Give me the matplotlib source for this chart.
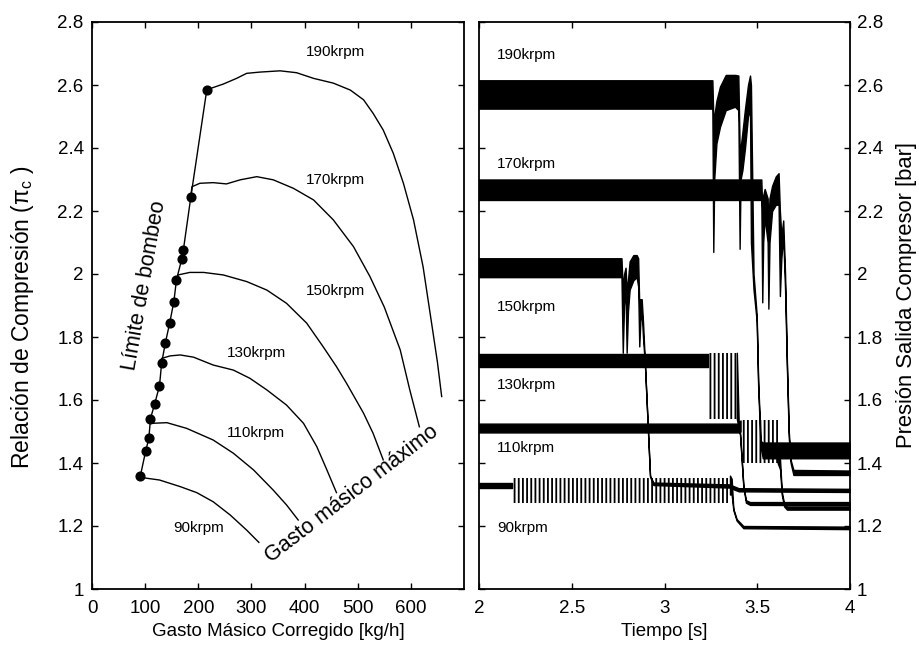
import matplotlib
matplotlib.use("Agg")
import matplotlib.pyplot as plt

plt.rcParams['font.family'] = ['Liberation Sans', 'DejaVu Sans']
plt.rcParams['mathtext.fontset'] = 'custom'
plt.rcParams['mathtext.rm'] = 'Liberation Sans'
plt.rcParams['mathtext.it'] = 'Liberation Sans:italic'
plt.rcParams['hatch.linewidth'] = 1.3

# ---------------- Left panel data: compressor map ----------------
surge_x = [91, 101, 107, 110, 118, 127, 131, 138, 146, 154, 159, 169, 172, 186, 216]
surge_y = [1.359, 1.438, 1.478, 1.541, 1.588, 1.645, 1.717, 1.781, 1.843, 1.912,
           1.982, 2.048, 2.077, 2.245, 2.585]

n90_x = [91, 97, 127, 166, 197, 228, 260, 291, 314]
n90_y = [1.359, 1.353, 1.346, 1.325, 1.306, 1.277, 1.235, 1.187, 1.148]

n110_x = [110, 113, 141, 178, 228, 266, 304, 341, 366, 388]
n110_y = [1.541, 1.526, 1.528, 1.510, 1.473, 1.431, 1.378, 1.314, 1.267, 1.219]

n130_x = [131, 147, 166, 191, 228, 266, 297, 329, 366, 398, 423, 442, 460]
n130_y = [1.732, 1.740, 1.743, 1.736, 1.711, 1.695, 1.669, 1.632, 1.584, 1.526,
          1.452, 1.378, 1.306]

n150_x = [159, 162, 184, 210, 247, 291, 329, 366, 404, 435, 460, 479, 511, 529, 548]
n150_y = [1.982, 1.997, 2.005, 2.005, 1.997, 1.976, 1.949, 1.907, 1.844, 1.769,
          1.706, 1.653, 1.558, 1.494, 1.410]

n170_x = [186, 188, 203, 228, 253, 279, 310, 341, 379, 417, 454, 492, 523, 550,
          580, 598, 616]
n170_y = [2.245, 2.277, 2.288, 2.290, 2.286, 2.299, 2.309, 2.299, 2.272, 2.235,
          2.172, 2.087, 1.992, 1.895, 1.759, 1.632, 1.515]

n190_x = [216, 247, 272, 291, 316, 354, 385, 417, 454, 486, 511, 529, 548, 567,
          586, 605, 623, 640, 650, 658]
n190_y = [2.585, 2.603, 2.621, 2.637, 2.641, 2.645, 2.639, 2.621, 2.606, 2.584,
          2.553, 2.510, 2.457, 2.383, 2.288, 2.172, 2.023, 1.833, 1.720, 1.611]

map_labels = ['190krpm', '170krpm', '150krpm', '130krpm', '110krpm', '90krpm']
map_label_x = [459, 459, 459, 309, 309, 201]
map_label_y = [2.705, 2.299, 1.947, 1.749, 1.495, 1.195]

# ---------------- Right panel data: outlet pressure vs time ----------------
t190 = [2.0, 3.258, 3.263, 3.268, 3.280, 3.299, 3.330, 3.380, 3.398, 3.405, 3.410,
        3.420, 3.434, 3.450, 3.461, 3.466, 3.480, 3.497, 3.505, 3.518, 3.530, 4.0]
lo190 = [2.525, 2.525, 2.07, 2.30, 2.415, 2.467, 2.52, 2.531, 2.52, 2.08, 2.30,
         2.33, 2.40, 2.50, 2.52, 2.10, 1.95, 1.85, 1.64, 1.45, 1.415, 1.415]
hi190 = [2.615, 2.615, 2.50, 2.50, 2.55, 2.595, 2.632, 2.632, 2.63, 2.40, 2.40,
         2.45, 2.525, 2.60, 2.63, 2.60, 2.00, 1.87, 1.66, 1.47, 1.465, 1.465]

t170 = [2.0, 3.522, 3.527, 3.532, 3.540, 3.556, 3.560, 3.566, 3.580, 3.600, 3.615,
        3.622, 3.630, 3.640, 3.650, 3.660, 3.670, 3.680, 3.695, 4.0]
lo170 = [2.235, 2.235, 1.91, 2.10, 2.18, 2.10, 1.89, 2.10, 2.20, 2.22, 2.22, 1.93,
         2.05, 2.12, 1.95, 1.70, 1.48, 1.40, 1.362, 1.362]
hi170 = [2.30, 2.30, 2.20, 2.25, 2.27, 2.24, 2.15, 2.24, 2.28, 2.31, 2.32, 2.20,
         2.12, 2.17, 2.00, 1.72, 1.50, 1.41, 1.378, 1.376]

t150 = [2.0, 2.768, 2.775, 2.782, 2.790, 2.796, 2.803, 2.812, 2.832, 2.850, 2.858,
        2.864, 2.870, 2.877, 2.884, 2.895, 2.922, 2.940, 3.350, 3.400, 4.0]
lo150 = [1.99, 1.99, 1.75, 1.90, 1.95, 1.75, 1.88, 1.95, 1.98, 1.99, 1.96, 1.77,
         1.85, 1.88, 1.80, 1.706, 1.357, 1.330, 1.322, 1.31, 1.308]
hi150 = [2.05, 2.05, 1.95, 2.00, 2.02, 1.95, 1.98, 2.04, 2.06, 2.06, 2.05, 1.90,
         1.92, 1.92, 1.85, 1.71, 1.36, 1.338, 1.332, 1.32, 1.318]

t130a = [2.0, 3.236]
lo130a = [1.705, 1.705]
hi130a = [1.745, 1.745]
t130b = [3.390, 3.400, 3.410]
lo130b = [1.54, 1.51, 1.50]
hi130b = [1.75, 1.53, 1.535]
t130c = [3.610, 3.623, 3.632, 3.645, 3.660, 4.0]
lo130c = [1.40, 1.38, 1.30, 1.262, 1.252, 1.252]
hi130c = [1.45, 1.41, 1.31, 1.27, 1.262, 1.262]

t110 = [2.0, 3.403, 3.407, 3.425, 3.439, 3.461, 4.0]
lo110 = [1.497, 1.497, 1.49, 1.325, 1.274, 1.267, 1.266]
hi110 = [1.525, 1.525, 1.50, 1.33, 1.282, 1.276, 1.276]

t90a = [2.0, 2.176]
lo90a = [1.322, 1.322]
hi90a = [1.338, 1.338]
t90b = [3.353, 3.362, 3.371, 3.389, 3.425, 4.0]
lo90b = [1.30, 1.30, 1.251, 1.217, 1.193, 1.190]
hi90b = [1.36, 1.35, 1.255, 1.222, 1.200, 1.198]

# surge oscillation zones (start, end, low, high)
osc_t0 = [2.176, 3.236, 3.410]
osc_t1 = [3.353, 3.390, 3.610]
osc_lo = [1.273, 1.540, 1.400]
osc_hi = [1.351, 1.750, 1.535]

time_labels = ['190krpm', '170krpm', '150krpm', '130krpm', '110krpm', '90krpm']
time_label_y = [2.695, 2.349, 1.895, 1.648, 1.449, 1.195]

yticks = [1, 1.2, 1.4, 1.6, 1.8, 2, 2.2, 2.4, 2.6, 2.8]
yticklabels = ['1', '1.2', '1.4', '1.6', '1.8', '2', '2.2', '2.4', '2.6', '2.8']

# ---------------- Figure ----------------
fig = plt.figure(figsize=(9.19, 6.51), dpi=100)
W, H = 919, 651
ax1 = fig.add_axes([92 / W, 1 - 589 / H, (464 - 92) / W, (589 - 22) / H])
ax2 = fig.add_axes([479 / W, 1 - 589 / H, (850 - 479) / W, (589 - 22) / H])

FS = 13.5
for ax in (ax1, ax2):
    for s in ax.spines.values():
        s.set_linewidth(1.3)
    ax.tick_params(direction='in', length=4, width=1, top=True, right=True,
                   labelsize=FS)
    ax.set_ylim(1, 2.8)
    ax.set_yticks(yticks)

# Left
lw = 1.0
for xs, ys in [(n90_x, n90_y), (n110_x, n110_y), (n130_x, n130_y),
               (n150_x, n150_y), (n170_x, n170_y), (n190_x, n190_y)]:
    ax1.plot(xs, ys, color='k', lw=lw)
ax1.plot(surge_x, surge_y, color='k', lw=lw, marker='o', markersize=6.3,
         markerfacecolor='k', markeredgecolor='k')
for lab, x, y in zip(map_labels, map_label_x, map_label_y):
    ax1.text(x, y, lab, fontsize=11, ha='center', va='center')
ax1.text(99, 1.965, 'Límite de bombeo', fontsize=15.5, rotation=80,
         ha='center', va='center', rotation_mode='anchor')
ax1.text(489, 1.302, 'Gasto másico máximo', fontsize=15.5, rotation=37.5,
         ha='center', va='center', rotation_mode='anchor')
ax1.set_xlim(0, 700)
ax1.set_xticks([0, 100, 200, 300, 400, 500, 600])
ax1.set_yticklabels(yticklabels)
ax1.tick_params(axis='x', pad=8)
ax1.tick_params(axis='y', pad=6)
ax1.set_xlabel('Gasto Másico Corregido [kg/h]', fontsize=FS)
ax1.set_ylabel('Relación de Compresión (π$_\\mathrm{c}$ )', fontsize=16.5)
ax1.yaxis.set_label_coords(-0.151, 0.479)

# Right
for t, lo, hi in [(t190, lo190, hi190), (t170, lo170, hi170),
                  (t150, lo150, hi150), (t130a, lo130a, hi130a),
                  (t130b, lo130b, hi130b), (t130c, lo130c, hi130c),
                  (t110, lo110, hi110), (t90a, lo90a, hi90a),
                  (t90b, lo90b, hi90b)]:
    ax2.fill_between(t, lo, hi, facecolor='k', edgecolor='k', lw=1.0)
for a, b, lo, hi in zip(osc_t0, osc_t1, osc_lo, osc_hi):
    ax2.fill_between([a, b], [lo, lo], [hi, hi], facecolor='none',
                     edgecolor='k', hatch='||||', lw=0)
for lab, y in zip(time_labels, time_label_y):
    ax2.text(2.097, y, lab, fontsize=11, ha='left', va='center')
ax2.set_xlim(2, 4)
ax2.set_xticks([2, 2.5, 3, 3.5, 4])
ax2.set_xticklabels(['2', '2.5', '3', '3.5', '4'])
ax2.tick_params(labelleft=False, labelright=True)
ax2.tick_params(axis='x', pad=8)
ax2.tick_params(axis='y', pad=5)
ax2.set_yticklabels(yticklabels)
ax2.yaxis.set_label_position('right')
ax2.set_xlabel('Tiempo [s]', fontsize=FS)
ax2.set_ylabel('Presión Salida Compresor [bar]', fontsize=15.8)
ax2.yaxis.set_label_coords(1.124, 0.5185)

fig.savefig('out.png', dpi=100)
